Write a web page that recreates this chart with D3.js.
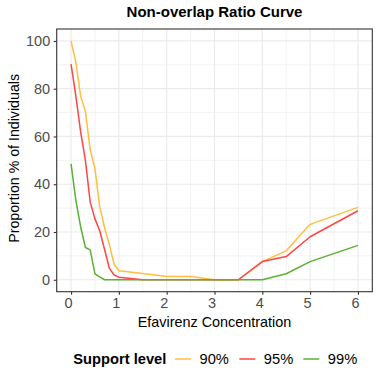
<!DOCTYPE html>
<html><head><meta charset="utf-8">
<script src="https://cdn.jsdelivr.net/npm/d3@7"></script>
<style>body{margin:0;background:#fff}svg{display:block}text{font-family:"Liberation Sans",Arial,Helvetica,sans-serif}</style>
</head><body><svg id="c" width="381" height="381"></svg>
<script>
const concentration = [0,0.1,0.2,0.3,0.4,0.5,0.6,0.7,0.8,0.9,1.0,1.5,2,2.5,3,3.5,4,4.5,5,6];
const support90 = [100,91,77,70.5,54.5,46.5,30.5,22,14.8,6.5,3.75,2.6,1.4,1.4,0,0,7.6,12.1,23.2,30.3];
const support95 = [90.3,77,62,50,32.6,25.5,20.5,12.8,4.9,2,1.1,0,0,0,0,0,7.6,9.7,18,28.9];
const support99 = [48.5,33.3,22.2,13.5,12.5,2.5,1.2,0,0,0,0,0,0,0,0,0,0,2.5,7.6,14.4];
const seriesNames = ["90%","95%","99%"];
const seriesColors = ["#FFBE40","#FF4545","#5BB035"];
const xTicks = [0,1,2,3,4,5,6];
const yTicks = [0,20,40,60,80,100];

const series = [support90, support95, support99];
const svg = d3.select("#c");
const L = 56.7, R = 372.3, T = 29, B = 291.7;
const x = d3.scaleLinear().domain([-0.3, 6.3]).range([L, R]);
const y = d3.scaleLinear().domain([-5, 105]).range([B, T]);

// grid
const g = svg.append("g");
const xMinor = [0.5,1.5,2.5,3.5,4.5,5.5];
const yMinor = [10,30,50,70,90];
g.selectAll(".xm").data(xMinor).enter().append("line").attr("x1",d=>x(d)).attr("x2",d=>x(d)).attr("y1",T).attr("y2",B).attr("stroke","#ebebeb").attr("stroke-width",0.6);
g.selectAll(".ym").data(yMinor).enter().append("line").attr("y1",d=>y(d)).attr("y2",d=>y(d)).attr("x1",L).attr("x2",R).attr("stroke","#ebebeb").attr("stroke-width",0.6);
g.selectAll(".xM").data(xTicks).enter().append("line").attr("x1",d=>x(d)).attr("x2",d=>x(d)).attr("y1",T).attr("y2",B).attr("stroke","#ebebeb").attr("stroke-width",1.2);
g.selectAll(".yM").data(yTicks).enter().append("line").attr("y1",d=>y(d)).attr("y2",d=>y(d)).attr("x1",L).attr("x2",R).attr("stroke","#ebebeb").attr("stroke-width",1.2);

// lines
const line = d3.line().x((d,i)=>x(concentration[i])).y(d=>y(d));
series.forEach((s,k)=>{
  svg.append("path").datum(s).attr("d",line).attr("fill","none").attr("stroke",seriesColors[k]).attr("stroke-width",1.5).attr("stroke-linejoin","round");
});

// border
svg.append("rect").attr("x",L).attr("y",T).attr("width",R-L).attr("height",B-T).attr("fill","none").attr("stroke","#333").attr("stroke-width",1.1);

// axes
const xa = svg.append("g").attr("transform",`translate(0,${B})`).call(d3.axisBottom(x).tickValues(xTicks).tickSize(3).tickPadding(3).tickFormat(d3.format("d")));
const ya = svg.append("g").attr("transform",`translate(${L},0)`).call(d3.axisLeft(y).tickValues(yTicks).tickSize(3).tickPadding(3.5).tickFormat(d3.format("d")));
[xa,ya].forEach(a=>{
  a.select(".domain").remove();
  a.selectAll(".tick line").attr("stroke","#333").attr("stroke-width",1.1);
  a.selectAll(".tick text").attr("fill","#4d4d4d").style("font-size","14.5px");
});
xa.selectAll(".tick text").attr("dx",-3);

// titles
svg.append("text").attr("x",(L+R)/2).attr("y",17.3).attr("text-anchor","middle").style("font-size","15px").style("font-weight","bold").attr("fill","#000").text("Non-overlap Ratio Curve");
svg.append("text").attr("x",(L+R)/2).attr("y",326.5).attr("text-anchor","middle").style("font-size","14.4px").attr("fill","#000").text("Efavirenz Concentration");
svg.append("text").attr("transform",`translate(18.5,${(T+B)/2 - 2}) rotate(-90)`).attr("text-anchor","middle").style("font-size","14.2px").attr("fill","#000").text("Proportion % of Individuals");

// legend
const ly = 359;
svg.append("text").attr("x",73.3).attr("y",364).style("font-size","14.7px").style("font-weight","bold").attr("fill","#000").text("Support level");
const keyX = [175,239.3,303.3];
seriesNames.forEach((n,k)=>{
  svg.append("line").attr("x1",keyX[k]).attr("x2",keyX[k]+16).attr("y1",ly).attr("y2",ly).attr("stroke",seriesColors[k]).attr("stroke-width",1.5);
  svg.append("text").attr("x",keyX[k]+24.5).attr("y",364).style("font-size","14.7px").attr("fill","#000").text(n);
});
</script></body></html>
